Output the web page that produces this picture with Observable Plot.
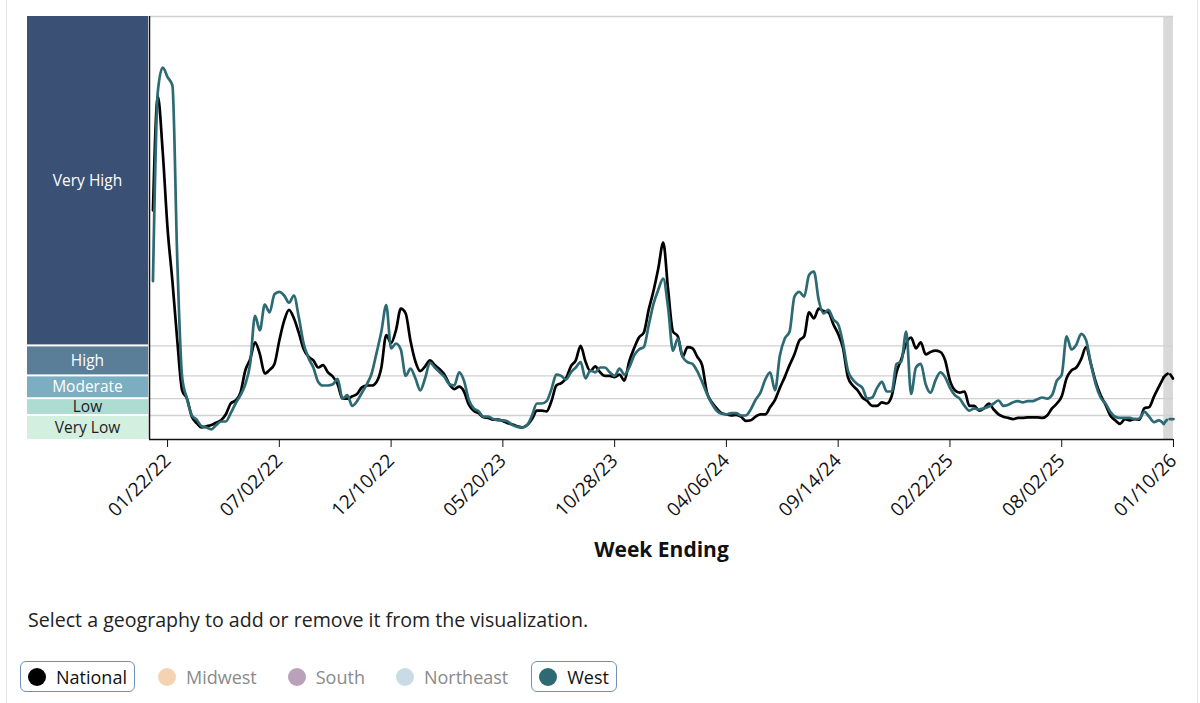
<!DOCTYPE html>
<html>
<head>
<meta charset="utf-8">
<script src="https://cdn.jsdelivr.net/npm/d3@7"></script>
<script src="https://cdn.jsdelivr.net/npm/@observablehq/plot@0.6"></script>
<style>
  html, body { margin: 0; padding: 0; background: #fff; }
  body { font-family: "Open Sans", sans-serif; color: #222; }
  #card { position: relative; width: 1200px; height: 703px; overflow: hidden; }
  .edge { position: absolute; top: 0; bottom: 0; width: 1px; background: #e6e6e6; }
  #chart { position: absolute; left: 0; top: 0; }
  #note { position: absolute; left: 28px; top: 606px; font-size: 19.6px; color: #222; white-space: nowrap; }
  #legend { position: absolute; left: 20px; top: 661px; display: flex; gap: 15px; }
  .item { display: inline-flex; align-items: center; height: 29px; padding: 0 7px; border: 1px solid transparent; border-radius: 6px; font-size: 18px; }
  .item.on { border-color: #6f8fb3; color: #111; }
  .item.off { color: #8a8a8a; }
  .dot { width: 18px; height: 18px; border-radius: 50%; margin-right: 10px; }
</style>
</head>
<body>
<div id="card">
  <div class="edge" style="left:6px"></div>
  <div class="edge" style="left:1197px"></div>
  <div id="chart"></div>
  <div id="note">Select a geography to add or remove it from the visualization.</div>
  <div id="legend"></div>
</div>
<script>
// ---- data (weekly wastewater viral activity level, week ending) ----
const firstWeek = "2022-01-01";
const national = [
19.1,28.6,24.0,17.6,13.2,8.25,4.1,3.4,1.9,1.36,1.0,1.1,1.2,1.4,1.6,2.1,3.0,3.25,3.9,5.75,
6.7,8.1,7.1,5.5,5.8,6.3,8.25,9.9,10.8,10.1,8.9,7.55,6.9,6.6,6.0,6.2,5.6,5.25,4.6,3.4,
3.4,3.6,3.8,4.35,4.5,4.5,4.8,6.0,8.7,8.05,9.1,10.9,10.5,8.2,6.5,5.7,6.1,6.6,6.2,5.85,
5.4,4.6,4.2,4.4,4.0,2.9,2.4,2.2,1.85,1.8,1.65,1.65,1.55,1.35,1.25,1.1,1.0,1.2,1.7,2.4,
2.4,2.35,3.2,4.5,4.7,5.1,6.1,6.6,7.8,6.5,5.7,6.1,5.6,5.3,5.3,5.2,5.4,4.9,6.5,7.6,
8.5,8.9,10.8,12.4,14.3,16.4,12.5,9.0,8.6,6.9,7.7,7.6,6.9,6.2,3.9,3.1,2.6,2.2,2.1,2.0,
2.05,1.9,1.55,1.6,1.9,2.1,2.1,2.7,3.3,4.3,5.2,6.2,7.1,8.25,8.6,10.6,10.1,10.9,10.7,10.6,
9.6,8.8,7.6,5.2,4.5,4.1,3.5,3.2,2.8,2.8,3.1,3.0,3.6,5.6,6.7,8.0,8.5,7.6,8.1,7.1,
7.3,7.4,7.3,6.6,4.9,4.1,3.9,4.0,2.8,2.8,2.4,2.6,3.0,2.5,2.1,1.9,1.8,1.7,1.8,1.8,
1.85,1.85,1.85,1.8,2.0,2.6,3.0,3.6,5.1,5.75,6.0,6.7,7.7,6.3,4.8,3.7,2.9,2.0,1.6,1.3,
1.7,1.6,1.7,1.65,2.6,2.7,3.6,4.4,5.2,5.5,5.0
];
const west = [
13.2,29.0,31.0,30.2,29.5,15.0,5.2,3.4,2.0,1.65,1.1,1.0,0.85,1.2,1.5,1.5,2.2,3.0,3.7,4.6,
6.3,10.3,9.1,11.25,10.6,12.1,12.3,12.0,11.4,12.0,10.2,8.0,6.8,6.0,4.8,4.5,4.5,4.6,5.05,3.4,
3.7,2.8,3.2,3.9,4.6,5.5,7.2,9.0,11.2,7.6,8.0,7.5,5.3,5.9,5.1,4.1,5.1,6.4,6.0,5.6,
5.2,4.6,4.5,5.6,4.9,3.3,2.6,2.35,1.9,1.9,1.7,1.6,1.6,1.5,1.2,1.05,1.0,1.2,2.0,3.0,
3.0,3.2,4.2,5.4,5.3,5.0,5.6,6.0,6.45,5.1,5.75,5.6,6.0,6.0,5.6,5.3,5.9,5.4,6.0,7.0,
7.5,7.7,9.5,11.3,12.5,13.4,11.0,7.4,8.4,6.9,6.45,6.3,5.7,4.8,3.8,3.0,2.4,2.15,2.1,2.2,
2.2,2.0,2.0,2.5,3.3,3.9,5.0,5.6,4.1,7.0,8.4,9.0,11.9,12.3,11.9,13.7,14.0,11.6,10.5,10.8,
10.0,9.6,8.0,5.75,5.0,4.6,4.3,3.4,3.5,4.3,4.8,4.0,4.0,6.3,6.5,9.0,3.8,6.0,6.3,4.6,
3.9,4.9,5.6,5.2,4.3,3.7,3.4,2.8,2.4,2.6,2.5,2.6,2.75,3.0,3.25,2.8,2.9,3.1,3.2,3.1,
3.2,3.2,3.35,3.5,3.4,3.7,4.9,5.4,8.6,7.5,7.9,8.8,8.3,6.3,4.6,3.5,3.0,2.3,1.9,1.8,
1.8,1.8,1.7,1.75,2.3,1.9,1.45,1.6,1.3,1.7,1.7
];
const tickDates = ["2022-01-22","2022-07-02","2022-12-10","2023-05-20","2023-10-28",
                   "2024-04-06","2024-09-14","2025-02-22","2025-08-02","2026-01-10"];
const levelNames  = ["Very Low","Low","Moderate","High","Very High"];
const levelBreaks = [0, 2, 3.4, 5.3, 7.8, 35.25];
const levelFill   = ["#d3efdf","#acdcd2","#7aaec0","#5a7e98","#3a5175"];
const levelInk    = ["#1d1d1d","#1d1d1d","#ffffff","#ffffff","#ffffff"];
const provisional = {start: "2025-12-27", end: "2026-01-10"};
const domainStart = "2021-12-27";
const seriesNames = ["National","West"];
const seriesColors = ["#000000","#2d6a73"];
const geographies = ["National","Midwest","South","Northeast","West"];
const geoColors   = ["#000000","#f4d3b3","#b9a1bc","#c9dbe4","#2d6a73"];
const geoActive   = [true,false,false,false,true];

// ---- build table ----
const t0 = new Date(firstWeek);
const dateOf = i => d3.utcDay.offset(t0, 7 * i);
const rows = [];
seriesNames.forEach((s, j) => {
  const vals = j === 0 ? national : west;
  vals.forEach((v, i) => rows.push({series: s, date: dateOf(i), value: v}));
});
const pStart = new Date(provisional.start);
const solid = rows.filter(d => d.date <= pStart);
const dashed = rows.filter(d => d.date >= pStart);
const yMax = levelBreaks[levelBreaks.length - 1];

const plot = Plot.plot({
  width: 1200,
  height: 570,
  marginLeft: 149,
  marginRight: 27,
  marginTop: 16,
  marginBottom: 131,
  style: {fontFamily: "'Open Sans', sans-serif", fontSize: "19px", color: "#111", background: "transparent"},
  x: {
    type: "utc",
    domain: [new Date(domainStart), new Date(provisional.end)],
    ticks: tickDates.map(d => new Date(d)),
    tickFormat: d3.utcFormat("%m/%d/%y"),
    tickRotate: -45,
    tickSize: 8,
    tickPadding: 10,
    label: null
  },
  y: {domain: [0, yMax], axis: null},
  color: {domain: seriesNames, range: seriesColors},
  marks: [
    Plot.rect([provisional], {x1: d => new Date(d.start), x2: d => new Date(d.end), fill: "#d9d9d9"}),
    Plot.ruleY(levelBreaks.slice(1), {stroke: "#d0d0d0", strokeWidth: 1.3}),
    Plot.line(solid, {x: "date", y: "value", z: "series", stroke: "series", curve: "monotone-x", strokeWidth: 2.7}),
    Plot.line(dashed, {x: "date", y: "value", z: "series", stroke: "series", curve: "monotone-x", strokeWidth: 2.7, strokeDasharray: "5,3"}),
    Plot.ruleX([new Date(domainStart)], {stroke: "#111", strokeWidth: 1.5}),
    Plot.ruleY([0], {stroke: "#111", strokeWidth: 1.5}),
    Plot.text(["Week Ending"], {frameAnchor: "bottom", dy: 117, fontWeight: "bold", fontSize: 21, fill: "#111"})
  ]
});

// level bands drawn in the left margin with the plot's y scale
const yS = plot.scale("y");
const g = d3.select(plot).append("g");
levelNames.forEach((name, i) => {
  const top = yS.apply(levelBreaks[i + 1]);
  const bot = yS.apply(levelBreaks[i]);
  const y1 = i === levelNames.length - 1 ? top : top + 1;
  const y2 = i === 0 ? bot : bot - 1;
  g.append("rect").attr("x", 27).attr("width", 121).attr("y", y1).attr("height", y2 - y1).attr("fill", levelFill[i]);
  g.append("text").attr("x", 87.5).attr("y", (y1 + y2) / 2).attr("dy", "0.35em")
    .attr("text-anchor", "middle").attr("fill", levelInk[i])
    .attr("font-family", "'Open Sans', sans-serif").attr("font-size", 15.5).text(name);
});
document.getElementById("chart").appendChild(plot);

// legend
const legend = d3.select("#legend");
geographies.forEach((name, i) => {
  const it = legend.append("div").attr("class", "item " + (geoActive[i] ? "on" : "off"));
  it.append("div").attr("class", "dot").style("background", geoColors[i]);
  it.append("span").text(name);
});
</script>
</body>
</html>
